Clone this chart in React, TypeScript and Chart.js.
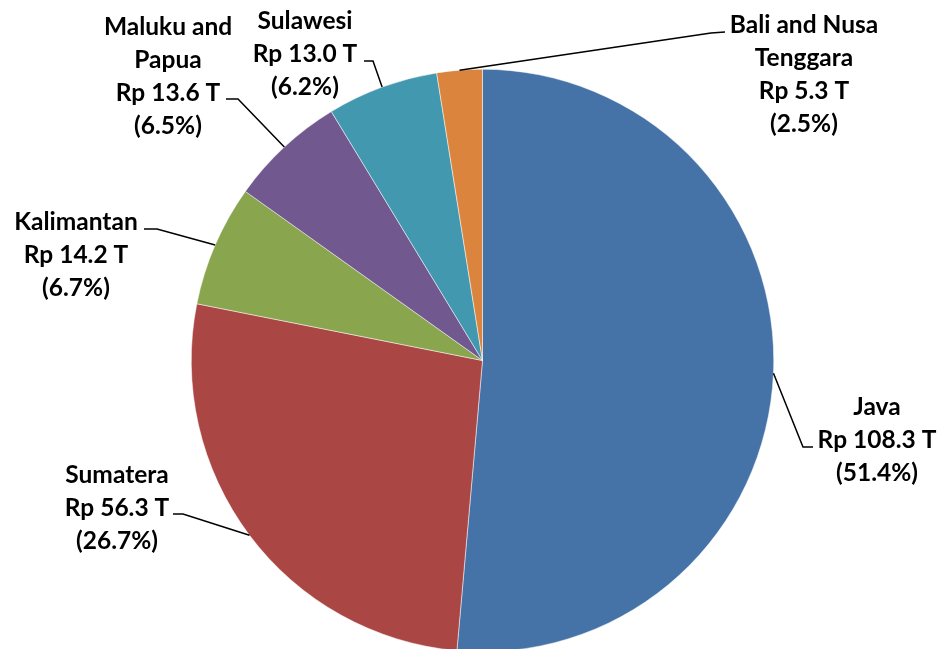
import React, { useEffect, useRef } from "react";
import { Chart, registerables } from "chart.js";

Chart.register(...registerables);

const regions = ["Java", "Sumatera", "Kalimantan", "Maluku and Papua", "Sulawesi", "Bali and Nusa Tenggara"];
const values = [108.3, 56.3, 14.2, 13.6, 13.0, 5.3];
const percents = ["51.4%", "26.7%", "6.7%", "6.5%", "6.2%", "2.5%"];
const colors = ["#4572A7", "#AA4643", "#89A54E", "#71588F", "#4198AF", "#DB843D"];
const labelLines = [
  ["Java"],
  ["Sumatera"],
  ["Kalimantan"],
  ["Maluku and", "Papua"],
  ["Sulawesi"],
  ["Bali and Nusa", "Tenggara"],
];

// label layout: text centre x, first line centre y, leader start (at text) and elbow
const labelLayout = [
  { cx: 877, y0: 407, sx: 813, sy: 447, ex: 803, ey: 447 },
  { cx: 117, y0: 475, sx: 173, sy: 514, ex: 183, ey: 514 },
  { cx: 76, y0: 222, sx: 144, sy: 229, ex: 157, ey: 229 },
  { cx: 168, y0: 27, sx: 226, sy: 99, ex: 238, ey: 99 },
  { cx: 305, y0: 21, sx: 364, sy: 61, ex: 373, ey: 61 },
  { cx: 804, y0: 25, sx: 725, sy: 32, ex: 711, ey: 33 },
];

const FONT = "bold 24.5px Lato";
const LINE_H = 33;

const labelPlugin = {
  id: "leaderLabels",
  afterDraw(chart: any) {
    const ctx = chart.ctx;
    const meta = chart.getDatasetMeta(0);
    ctx.save();
    meta.data.forEach((arc: any, i: number) => {
      const L = labelLayout[i];
      const mid = (arc.startAngle + arc.endAngle) / 2;
      const px = arc.x + Math.cos(mid) * arc.outerRadius;
      const py = arc.y + Math.sin(mid) * arc.outerRadius;
      ctx.strokeStyle = "#000";
      ctx.lineWidth = 1.5;
      ctx.beginPath();
      ctx.moveTo(L.sx, L.sy);
      ctx.lineTo(L.ex, L.ey);
      ctx.lineTo(px, py);
      ctx.stroke();
      const lines = [...labelLines[i], `Rp ${values[i].toFixed(1)} T`, `(${percents[i]})`];
      ctx.font = FONT;
      ctx.fillStyle = "#000";
      ctx.textAlign = "center";
      ctx.textBaseline = "middle";
      lines.forEach((t, k) => ctx.fillText(t, L.cx, L.y0 + k * LINE_H));
    });
    ctx.restore();
  },
};

export default function App() {
  const ref = useRef<HTMLCanvasElement>(null);
  useEffect(() => {
    const chart = new Chart(ref.current!, {
      type: "pie",
      data: {
        labels: regions,
        datasets: [
          {
            data: values,
            backgroundColor: colors,
            borderColor: "#ffffff",
            borderWidth: 0.5,
          },
        ],
      },
      options: {
        responsive: false,
        animation: false,
        layout: { padding: { left: 191, right: 165, top: 69, bottom: 3 } },
        plugins: { legend: { display: false }, tooltip: { enabled: false } },
      },
      plugins: [labelPlugin],
    });
    return () => chart.destroy();
  }, []);
  return (
    <div style={{ position: "fixed", left: 0, top: 0, width: 939, height: 649, overflow: "hidden", background: "#fff" }}>
      <canvas ref={ref} width={939} height={655} style={{ display: "block" }} />
    </div>
  );
}
